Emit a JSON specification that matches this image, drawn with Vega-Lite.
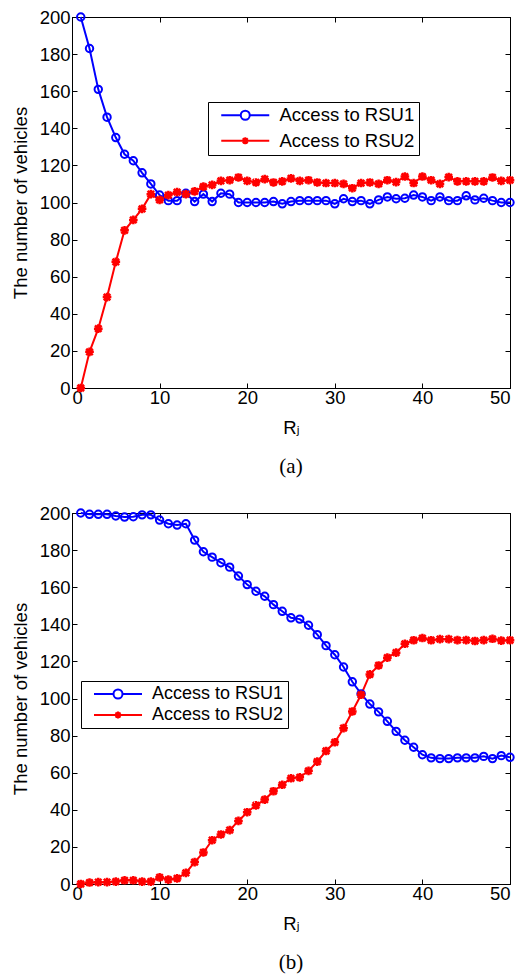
{
  "$schema": "https://vega.github.io/schema/vega-lite/v6.json",
  "padding": {"left": 10, "top": 7, "right": 0, "bottom": 0},
  "bounds": "flush",
  "spacing": 125,
  "resolve": {"scale": {"color": "independent", "shape": "independent"}, "legend": {"color": "independent", "shape": "independent"}},
  "config": {
    "view": {"stroke": "black", "strokeWidth": 1},
    "axis": {
      "grid": false,
      "domainColor": "black",
      "domainWidth": 1,
      "tickColor": "black",
      "tickWidth": 1,
      "tickSize": -5,
      "labelColor": "black",
      "labelFont": "Liberation Sans",
      "labelFontSize": 18.5,
      "titleColor": "black",
      "titleFont": "Liberation Sans, DejaVu Sans",
      "titleFontSize": 18.5,
      "titleFontWeight": "normal"
    },
    "legend": {
      "title": null,
      "orient": "none",
      "strokeColor": "black",
      "fillColor": "white",
      "padding": 4,
      "labelFont": "Liberation Sans",
      "labelFontSize": 18.5,
      "labelColor": "black",
      "labelExpr": "datum.label + '\u00a0'",
      "symbolSize": 100,
      "symbolOffset": 24,
      "labelOffset": 25,
      "symbolStrokeWidth": 2
    },
    "title": {"font": "Liberation Serif", "fontSize": 21, "fontWeight": "normal", "color": "black"}
  },
  "datasets": {
    "a": [
      {"R":1,"series":"Access to RSU1","n":200},{"R":2,"series":"Access to RSU1","n":183},{"R":3,"series":"Access to RSU1","n":161},{"R":4,"series":"Access to RSU1","n":146},{"R":5,"series":"Access to RSU1","n":135},
      {"R":6,"series":"Access to RSU1","n":126},{"R":7,"series":"Access to RSU1","n":122.5},{"R":8,"series":"Access to RSU1","n":116},{"R":9,"series":"Access to RSU1","n":110},{"R":10,"series":"Access to RSU1","n":104},
      {"R":11,"series":"Access to RSU1","n":101},{"R":12,"series":"Access to RSU1","n":101},{"R":13,"series":"Access to RSU1","n":105},{"R":14,"series":"Access to RSU1","n":100.5},{"R":15,"series":"Access to RSU1","n":104.5},
      {"R":16,"series":"Access to RSU1","n":100.5},{"R":17,"series":"Access to RSU1","n":105},{"R":18,"series":"Access to RSU1","n":104.5},{"R":19,"series":"Access to RSU1","n":100},{"R":20,"series":"Access to RSU1","n":100},
      {"R":21,"series":"Access to RSU1","n":100},{"R":22,"series":"Access to RSU1","n":100},{"R":23,"series":"Access to RSU1","n":100.5},{"R":24,"series":"Access to RSU1","n":99.3},{"R":25,"series":"Access to RSU1","n":100.5},
      {"R":26,"series":"Access to RSU1","n":101},{"R":27,"series":"Access to RSU1","n":101},{"R":28,"series":"Access to RSU1","n":101},{"R":29,"series":"Access to RSU1","n":101},{"R":30,"series":"Access to RSU1","n":99.3},
      {"R":31,"series":"Access to RSU1","n":102},{"R":32,"series":"Access to RSU1","n":100.5},{"R":33,"series":"Access to RSU1","n":101},{"R":34,"series":"Access to RSU1","n":99.3},{"R":35,"series":"Access to RSU1","n":101.4},
      {"R":36,"series":"Access to RSU1","n":103},{"R":37,"series":"Access to RSU1","n":102},{"R":38,"series":"Access to RSU1","n":102.3},{"R":39,"series":"Access to RSU1","n":104},{"R":40,"series":"Access to RSU1","n":103},
      {"R":41,"series":"Access to RSU1","n":101},{"R":42,"series":"Access to RSU1","n":103},{"R":43,"series":"Access to RSU1","n":101},{"R":44,"series":"Access to RSU1","n":101},{"R":45,"series":"Access to RSU1","n":103.6},
      {"R":46,"series":"Access to RSU1","n":101.4},{"R":47,"series":"Access to RSU1","n":102.3},{"R":48,"series":"Access to RSU1","n":101},{"R":49,"series":"Access to RSU1","n":100},{"R":50,"series":"Access to RSU1","n":100},
      {"R":1,"series":"Access to RSU2","n":0},{"R":2,"series":"Access to RSU2","n":19.5},{"R":3,"series":"Access to RSU2","n":32},{"R":4,"series":"Access to RSU2","n":49},{"R":5,"series":"Access to RSU2","n":68},
      {"R":6,"series":"Access to RSU2","n":85},{"R":7,"series":"Access to RSU2","n":90.6},{"R":8,"series":"Access to RSU2","n":96.6},{"R":9,"series":"Access to RSU2","n":104.5},{"R":10,"series":"Access to RSU2","n":101.4},
      {"R":11,"series":"Access to RSU2","n":104},{"R":12,"series":"Access to RSU2","n":105.6},{"R":13,"series":"Access to RSU2","n":104.5},{"R":14,"series":"Access to RSU2","n":106},{"R":15,"series":"Access to RSU2","n":108.6},
      {"R":16,"series":"Access to RSU2","n":109.5},{"R":17,"series":"Access to RSU2","n":111.7},{"R":18,"series":"Access to RSU2","n":112},{"R":19,"series":"Access to RSU2","n":113.5},{"R":20,"series":"Access to RSU2","n":111.7},
      {"R":21,"series":"Access to RSU2","n":110.8},{"R":22,"series":"Access to RSU2","n":112.6},{"R":23,"series":"Access to RSU2","n":110.8},{"R":24,"series":"Access to RSU2","n":111.4},{"R":25,"series":"Access to RSU2","n":113},
      {"R":26,"series":"Access to RSU2","n":111.7},{"R":27,"series":"Access to RSU2","n":112},{"R":28,"series":"Access to RSU2","n":110.8},{"R":29,"series":"Access to RSU2","n":110.5},{"R":30,"series":"Access to RSU2","n":110.5},
      {"R":31,"series":"Access to RSU2","n":110},{"R":32,"series":"Access to RSU2","n":107.7},{"R":33,"series":"Access to RSU2","n":110.5},{"R":34,"series":"Access to RSU2","n":110.8},{"R":35,"series":"Access to RSU2","n":110},
      {"R":36,"series":"Access to RSU2","n":112},{"R":37,"series":"Access to RSU2","n":111},{"R":38,"series":"Access to RSU2","n":114},{"R":39,"series":"Access to RSU2","n":110.5},{"R":40,"series":"Access to RSU2","n":114},
      {"R":41,"series":"Access to RSU2","n":112},{"R":42,"series":"Access to RSU2","n":110},{"R":43,"series":"Access to RSU2","n":113.7},{"R":44,"series":"Access to RSU2","n":111.4},{"R":45,"series":"Access to RSU2","n":111.4},
      {"R":46,"series":"Access to RSU2","n":111.4},{"R":47,"series":"Access to RSU2","n":111.4},{"R":48,"series":"Access to RSU2","n":113.5},{"R":49,"series":"Access to RSU2","n":111.7},{"R":50,"series":"Access to RSU2","n":112}
    ],
    "b": [
      {"R":1,"series":"Access to RSU1","n":200},{"R":2,"series":"Access to RSU1","n":199.3},{"R":3,"series":"Access to RSU1","n":199.3},{"R":4,"series":"Access to RSU1","n":199.3},{"R":5,"series":"Access to RSU1","n":198.4},
      {"R":6,"series":"Access to RSU1","n":197.8},{"R":7,"series":"Access to RSU1","n":198},{"R":8,"series":"Access to RSU1","n":199},{"R":9,"series":"Access to RSU1","n":199},{"R":10,"series":"Access to RSU1","n":196.2},
      {"R":11,"series":"Access to RSU1","n":194.2},{"R":12,"series":"Access to RSU1","n":193.5},{"R":13,"series":"Access to RSU1","n":194.2},{"R":14,"series":"Access to RSU1","n":185.4},{"R":15,"series":"Access to RSU1","n":179.1},
      {"R":16,"series":"Access to RSU1","n":176.2},{"R":17,"series":"Access to RSU1","n":173.2},{"R":18,"series":"Access to RSU1","n":170.8},{"R":19,"series":"Access to RSU1","n":166},{"R":20,"series":"Access to RSU1","n":161.4},
      {"R":21,"series":"Access to RSU1","n":157.8},{"R":22,"series":"Access to RSU1","n":155.1},{"R":23,"series":"Access to RSU1","n":150.6},{"R":24,"series":"Access to RSU1","n":147},{"R":25,"series":"Access to RSU1","n":143.5},
      {"R":26,"series":"Access to RSU1","n":142.8},{"R":27,"series":"Access to RSU1","n":139.5},{"R":28,"series":"Access to RSU1","n":134.4},{"R":29,"series":"Access to RSU1","n":128.5},{"R":30,"series":"Access to RSU1","n":123.6},
      {"R":31,"series":"Access to RSU1","n":117},{"R":32,"series":"Access to RSU1","n":109},{"R":33,"series":"Access to RSU1","n":102.5},{"R":34,"series":"Access to RSU1","n":97},{"R":35,"series":"Access to RSU1","n":92.8},
      {"R":36,"series":"Access to RSU1","n":87.7},{"R":37,"series":"Access to RSU1","n":82.3},{"R":38,"series":"Access to RSU1","n":77.5},{"R":39,"series":"Access to RSU1","n":73.7},{"R":40,"series":"Access to RSU1","n":69.7},
      {"R":41,"series":"Access to RSU1","n":68},{"R":42,"series":"Access to RSU1","n":67.6},{"R":43,"series":"Access to RSU1","n":67.6},{"R":44,"series":"Access to RSU1","n":68},{"R":45,"series":"Access to RSU1","n":68},
      {"R":46,"series":"Access to RSU1","n":68},{"R":47,"series":"Access to RSU1","n":68.8},{"R":48,"series":"Access to RSU1","n":67.6},{"R":49,"series":"Access to RSU1","n":69.2},{"R":50,"series":"Access to RSU1","n":68.3},
      {"R":1,"series":"Access to RSU2","n":0},{"R":2,"series":"Access to RSU2","n":0.8},{"R":3,"series":"Access to RSU2","n":1},{"R":4,"series":"Access to RSU2","n":1},{"R":5,"series":"Access to RSU2","n":1.3},
      {"R":6,"series":"Access to RSU2","n":2},{"R":7,"series":"Access to RSU2","n":2},{"R":8,"series":"Access to RSU2","n":1.3},{"R":9,"series":"Access to RSU2","n":1.3},{"R":10,"series":"Access to RSU2","n":3.6},
      {"R":11,"series":"Access to RSU2","n":2.4},{"R":12,"series":"Access to RSU2","n":3},{"R":13,"series":"Access to RSU2","n":6},{"R":14,"series":"Access to RSU2","n":11.8},{"R":15,"series":"Access to RSU2","n":17},
      {"R":16,"series":"Access to RSU2","n":23.6},{"R":17,"series":"Access to RSU2","n":26.7},{"R":18,"series":"Access to RSU2","n":29},{"R":19,"series":"Access to RSU2","n":34},{"R":20,"series":"Access to RSU2","n":38.7},
      {"R":21,"series":"Access to RSU2","n":42.4},{"R":22,"series":"Access to RSU2","n":45.5},{"R":23,"series":"Access to RSU2","n":50},{"R":24,"series":"Access to RSU2","n":53.5},{"R":25,"series":"Access to RSU2","n":57},
      {"R":26,"series":"Access to RSU2","n":57.5},{"R":27,"series":"Access to RSU2","n":61},{"R":28,"series":"Access to RSU2","n":66},{"R":29,"series":"Access to RSU2","n":71.7},{"R":30,"series":"Access to RSU2","n":76.4},
      {"R":31,"series":"Access to RSU2","n":84},{"R":32,"series":"Access to RSU2","n":93},{"R":33,"series":"Access to RSU2","n":102},{"R":34,"series":"Access to RSU2","n":113},{"R":35,"series":"Access to RSU2","n":117.8},
      {"R":36,"series":"Access to RSU2","n":122},{"R":37,"series":"Access to RSU2","n":124.7},{"R":38,"series":"Access to RSU2","n":129.5},{"R":39,"series":"Access to RSU2","n":131.4},{"R":40,"series":"Access to RSU2","n":132.6},
      {"R":41,"series":"Access to RSU2","n":131.4},{"R":42,"series":"Access to RSU2","n":132},{"R":43,"series":"Access to RSU2","n":132},{"R":44,"series":"Access to RSU2","n":131.5},{"R":45,"series":"Access to RSU2","n":131.5},
      {"R":46,"series":"Access to RSU2","n":131},{"R":47,"series":"Access to RSU2","n":131.5},{"R":48,"series":"Access to RSU2","n":132.2},{"R":49,"series":"Access to RSU2","n":131.2},{"R":50,"series":"Access to RSU2","n":131.4}
    ]
  },
  "vconcat": [
    {
      "width": 438,
      "height": 371,
      "data": {"name": "a"},
      "title": {"text": "(a)", "orient": "bottom", "anchor": "middle", "offset": 19},
      "resolve": {"axis": {"x": "independent", "y": "independent"}},
      "layer": [
        {
          "transform": [{"filter": "datum.series === 'Access to RSU1'"}],
          "mark": {"type": "line", "color": "#0000ff", "strokeWidth": 2},
          "encoding": {
            "x": {"field": "R", "type": "quantitative", "scale": {"domain": [0, 50], "nice": false},
                  "axis": {"orient": "bottom", "values": [0, 10, 20, 30, 40, 50], "title": "Rⱼ", "labelPadding": 5, "titlePadding": 12}},
            "y": {"field": "n", "type": "quantitative", "scale": {"domain": [0, 200], "nice": false},
                  "axis": {"orient": "left", "values": [0, 20, 40, 60, 80, 100, 120, 140, 160, 180, 200], "title": "The number of vehicles", "labelPadding": 7, "titlePadding": 9}}
          }
        },
        {
          "transform": [{"filter": "datum.series === 'Access to RSU2'"}],
          "mark": {"type": "line", "color": "#ff0000", "strokeWidth": 2},
          "encoding": {
            "x": {"field": "R", "type": "quantitative", "scale": {"domain": [0, 50], "nice": false},
                  "axis": {"orient": "top", "values": [0, 10, 20, 30, 40, 50], "labels": false, "title": null}},
            "y": {"field": "n", "type": "quantitative", "scale": {"domain": [0, 200], "nice": false},
                  "axis": {"orient": "right", "values": [0, 20, 40, 60, 80, 100, 120, 140, 160, 180, 200], "labels": false, "title": null}}
          }
        },
        {
          "transform": [{"filter": "datum.series === 'Access to RSU1'"}],
          "mark": {"type": "point", "shape": "circle", "filled": false, "color": "#0000ff", "strokeWidth": 2, "size": 55, "opacity": 1},
          "encoding": {
            "x": {"field": "R", "type": "quantitative", "axis": null},
            "y": {"field": "n", "type": "quantitative", "axis": null}
          }
        },
        {
          "transform": [{"filter": "datum.series === 'Access to RSU2'"}],
          "mark": {"type": "point", "shape": "M-1,0L1,0M0,-1L0,1M-0.75,-0.75L0.75,0.75M-0.75,0.75L0.75,-0.75", "filled": false, "color": "#ff0000", "strokeWidth": 2.5, "size": 75, "opacity": 1},
          "encoding": {
            "x": {"field": "R", "type": "quantitative", "axis": null},
            "y": {"field": "n", "type": "quantitative", "axis": null}
          }
        },
        {
          "transform": [{"filter": "false"}],
          "mark": {"type": "point", "filled": false, "strokeWidth": 2, "opacity": 1},
          "encoding": {
            "x": {"field": "R", "type": "quantitative", "axis": null},
            "y": {"field": "n", "type": "quantitative", "axis": null},
            "color": {"field": "series", "type": "nominal",
                      "scale": {"domain": ["Access to RSU1", "Access to RSU2"], "range": ["#0000ff", "#ff0000"]},
                      "legend": {"orient": "none", "legendX": 136, "legendY": 85, "rowPadding": 6.5}},
            "shape": {"field": "series", "type": "nominal",
                      "scale": {"domain": ["Access to RSU1", "Access to RSU2"],
                                "range": ["M-4.8,0L-0.9,0M0.9,0L4.8,0M-0.9,0A0.9,0.9 0 1,0 0.9,0A0.9,0.9 0 1,0 -0.9,0",
                                          "M-4.8,0L4.8,0M0,-0.7L0,0.7M-0.5,-0.5L0.5,0.5M-0.5,0.5L0.5,-0.5"]},
                      "legend": {"orient": "none", "legendX": 136, "legendY": 85, "rowPadding": 6.5}}
          }
        }
      ]
    },
    {
      "width": 438,
      "height": 371,
      "data": {"name": "b"},
      "title": {"text": "(b)", "orient": "bottom", "anchor": "middle", "offset": 19},
      "resolve": {"axis": {"x": "independent", "y": "independent"}},
      "layer": [
        {
          "transform": [{"filter": "datum.series === 'Access to RSU1'"}],
          "mark": {"type": "line", "color": "#0000ff", "strokeWidth": 2},
          "encoding": {
            "x": {"field": "R", "type": "quantitative", "scale": {"domain": [0, 50], "nice": false},
                  "axis": {"orient": "bottom", "values": [0, 10, 20, 30, 40, 50], "title": "Rⱼ", "labelPadding": 5, "titlePadding": 12}},
            "y": {"field": "n", "type": "quantitative", "scale": {"domain": [0, 200], "nice": false},
                  "axis": {"orient": "left", "values": [0, 20, 40, 60, 80, 100, 120, 140, 160, 180, 200], "title": "The number of vehicles", "labelPadding": 7, "titlePadding": 9}}
          }
        },
        {
          "transform": [{"filter": "datum.series === 'Access to RSU2'"}],
          "mark": {"type": "line", "color": "#ff0000", "strokeWidth": 2},
          "encoding": {
            "x": {"field": "R", "type": "quantitative", "scale": {"domain": [0, 50], "nice": false},
                  "axis": {"orient": "top", "values": [0, 10, 20, 30, 40, 50], "labels": false, "title": null}},
            "y": {"field": "n", "type": "quantitative", "scale": {"domain": [0, 200], "nice": false},
                  "axis": {"orient": "right", "values": [0, 20, 40, 60, 80, 100, 120, 140, 160, 180, 200], "labels": false, "title": null}}
          }
        },
        {
          "transform": [{"filter": "datum.series === 'Access to RSU1'"}],
          "mark": {"type": "point", "shape": "circle", "filled": false, "color": "#0000ff", "strokeWidth": 2, "size": 55, "opacity": 1},
          "encoding": {
            "x": {"field": "R", "type": "quantitative", "axis": null},
            "y": {"field": "n", "type": "quantitative", "axis": null}
          }
        },
        {
          "transform": [{"filter": "datum.series === 'Access to RSU2'"}],
          "mark": {"type": "point", "shape": "M-1,0L1,0M0,-1L0,1M-0.75,-0.75L0.75,0.75M-0.75,0.75L0.75,-0.75", "filled": false, "color": "#ff0000", "strokeWidth": 2.5, "size": 75, "opacity": 1},
          "encoding": {
            "x": {"field": "R", "type": "quantitative", "axis": null},
            "y": {"field": "n", "type": "quantitative", "axis": null}
          }
        },
        {
          "transform": [{"filter": "false"}],
          "mark": {"type": "point", "filled": false, "strokeWidth": 2, "opacity": 1},
          "encoding": {
            "x": {"field": "R", "type": "quantitative", "axis": null},
            "y": {"field": "n", "type": "quantitative", "axis": null},
            "color": {"field": "series", "type": "nominal",
                      "scale": {"domain": ["Access to RSU1", "Access to RSU2"], "range": ["#0000ff", "#ff0000"]},
                      "legend": {"orient": "none", "legendX": 9, "legendY": 168, "rowPadding": 3, "labelFontSize": 18}},
            "shape": {"field": "series", "type": "nominal",
                      "scale": {"domain": ["Access to RSU1", "Access to RSU2"],
                                "range": ["M-4.8,0L-0.9,0M0.9,0L4.8,0M-0.9,0A0.9,0.9 0 1,0 0.9,0A0.9,0.9 0 1,0 -0.9,0",
                                          "M-4.8,0L4.8,0M0,-0.7L0,0.7M-0.5,-0.5L0.5,0.5M-0.5,0.5L0.5,-0.5"]},
                      "legend": {"orient": "none", "legendX": 9, "legendY": 168, "rowPadding": 3, "labelFontSize": 18}}
          }
        }
      ]
    }
  ]
}
